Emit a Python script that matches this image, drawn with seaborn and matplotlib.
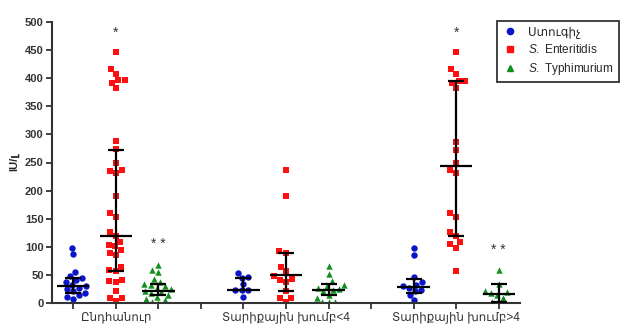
import numpy as np
import pandas as pd
import matplotlib
matplotlib.use("Agg")
import matplotlib.pyplot as plt
import seaborn as sns
from matplotlib.lines import Line2D

sns.set_style("white")
plt.rcParams['font.family'] = ['Liberation Sans', 'DejaVu Sans']
plt.rcParams['mathtext.fontset'] = 'custom'
plt.rcParams['mathtext.it'] = 'Liberation Sans:italic'
plt.rcParams['mathtext.rm'] = 'Liberation Sans'

groups = ["Ընդհանուր", "Տարիքային խումբ<4", "Տարիքային խումբ>4"]
series = ["Ստուգիչ", "S. Enteritidis", "S. Typhimurium"]
legend_labels = ["Ստուգիչ", "$\\it{S.}$ Enteritidis", "$\\it{S.}$ Typhimurium"]
colors = ["#0a14c8", "#ff1010", "#12901e"]
markers = ["o", "s", "^"]

# values (IU/l)
control_all = [98, 87, 55, 48, 45, 42, 38, 33, 30, 28, 25, 22, 18, 14, 12, 7]
enter_all = [446, 416, 408, 396, 396, 392, 383, 288, 274, 250, 236, 235, 231, 191,
             160, 154, 126, 120, 109, 104, 101, 94, 90, 86, 65, 59, 58, 41, 40, 38,
             21, 10, 9, 4]
typh_all = [68, 60, 55, 44, 38, 35, 33, 30, 28, 25, 22, 20, 18, 15, 12, 8, 5, 3, 1]

control_lt4 = [54, 46, 45, 34, 24, 24, 23, 12]
enter_lt4 = [236, 191, 92, 90, 65, 58, 48, 43, 41, 38, 22, 10, 9, 3]
typh_lt4 = [67, 52, 39, 33, 31, 28, 25, 24, 22, 15, 10, 3, 3, 2]

control_gt4 = [98, 86, 46, 38, 33, 31, 28, 24, 22, 15, 6]
enter_gt4 = [446, 416, 408, 395, 395, 392, 383, 287, 273, 250, 237, 232, 160, 154,
             126, 120, 108, 105, 99, 58]
typh_gt4 = [60, 35, 22, 20, 18, 15, 10, 3, 2]

# median and interquartile range per column (group-major, series-minor)
medians = [30, 120, 22, 24, 50, 24, 29, 243, 17]
q_low = [18, 58, 14, 23, 22, 15, 18, 120, 3]
q_high = [45, 273, 35, 45, 90, 35, 44, 395, 35]

# significance marks
star_text = ["*", "* *", "*", "* *"]
star_group = [0, 0, 2, 2]
star_series = [1, 2, 1, 2]
star_y = [480, 105, 480, 95]

data_sets = [[control_all, enter_all, typh_all],
             [control_lt4, enter_lt4, typh_lt4],
             [control_gt4, enter_gt4, typh_gt4]]

rows = []
for gi, g in enumerate(groups):
    for si, s in enumerate(series):
        for v in data_sets[gi][si]:
            rows.append({"group": g, "series": s, "value": v,
                         "pos": gi * 4 + si + 1})
df = pd.DataFrame(rows)

fig = plt.figure(figsize=(6.28, 3.28), dpi=100)
ax = fig.add_axes([52 / 628, 1 - 303.3 / 328, (520 - 52) / 628, (303.3 - 21.7) / 328])

for si, s in enumerate(series):
    sub = df[df.series == s]
    sns.swarmplot(data=sub, x="pos", y="value", native_scale=True, ax=ax,
                  color=colors[si], marker=markers[si], size=4.6,
                  linewidth=0, zorder=2, warn_thresh=1)

positions = [gi * 4 + si + 1 for gi in range(3) for si in range(3)]
med = np.array(medians)
lo = med - np.array(q_low)
hi = np.array(q_high) - med
ax.errorbar(positions, medians, yerr=[lo, hi], fmt="none", ecolor="black",
            elinewidth=1.6, capsize=6, capthick=1.6, zorder=3)
ax.hlines(medians, np.array(positions) - 0.38, np.array(positions) + 0.38,
          color="black", lw=1.6, zorder=3)

for t, g, s, y in zip(star_text, star_group, star_series, star_y):
    ax.text(g * 4 + s + 1, y, t, ha="center", va="center", fontsize=10,
            color="#333333")

ax.set_xlim(0.5, 11.5)
ax.set_ylim(0, 500)
ax.set_yticks(np.arange(0, 501, 50))
ax.set_xticks(range(1, 12))
ax.set_xticklabels([])
for gi, g in enumerate(groups):
    ax.text(gi * 4 + 2, -14, g, ha="center", va="top", fontsize=8.5,
            color="#333333", transform=ax.transData)
for lab in ax.get_yticklabels():
    lab.set_fontweight("bold")
    lab.set_fontsize(8)
    lab.set_color("#333333")
ax.set_xlabel("")
ax.set_ylabel("IU/լ", fontsize=8, fontweight="bold", labelpad=4)
for sp in ["top", "right"]:
    ax.spines[sp].set_visible(False)
for sp in ["left", "bottom"]:
    ax.spines[sp].set_color("#333333")
    ax.spines[sp].set_linewidth(1.5)
ax.tick_params(axis="both", direction="out", length=4, width=1.3, colors="#333333",
               bottom=True, left=True)
ax.tick_params(axis="y", pad=2)

handles = [Line2D([], [], linestyle="none", marker=markers[i], color=colors[i],
                  markersize=4.5) for i in range(3)]
leg = fig.legend(handles, legend_labels, loc="upper left",
                 bbox_to_anchor=(491 / 628, 1 - 15 / 328), fontsize=8.5,
                 frameon=True, fancybox=False, edgecolor="black",
                 handletextpad=0.8, handlelength=1.4, borderpad=0.45,
                 labelspacing=0.4)
leg.get_frame().set_linewidth(1.3)

fig.savefig("out.png", dpi=100)
